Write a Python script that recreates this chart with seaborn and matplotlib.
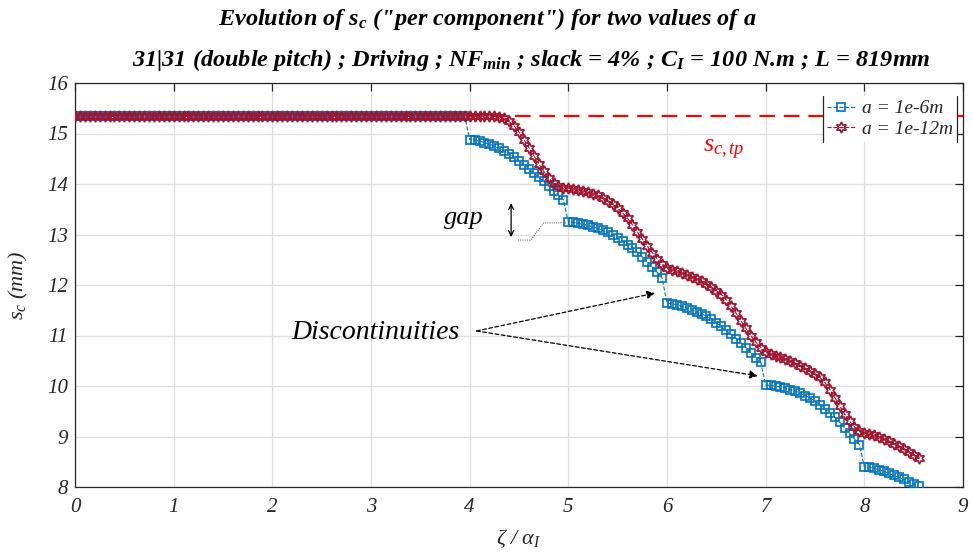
import matplotlib
matplotlib.use("Agg")
import matplotlib.pyplot as plt
from matplotlib.lines import Line2D
import seaborn as sns
import pandas as pd

# ---------------- data ----------------
zeta = [
    0.00, 0.05, 0.10, 0.15, 0.20, 0.25, 0.30, 0.35, 0.40, 0.45,
    0.50, 0.55, 0.60, 0.65, 0.70, 0.75, 0.80, 0.85, 0.90, 0.95,
    1.00, 1.05, 1.10, 1.15, 1.20, 1.25, 1.30, 1.35, 1.40, 1.45,
    1.50, 1.55, 1.60, 1.65, 1.70, 1.75, 1.80, 1.85, 1.90, 1.95,
    2.00, 2.05, 2.10, 2.15, 2.20, 2.25, 2.30, 2.35, 2.40, 2.45,
    2.50, 2.55, 2.60, 2.65, 2.70, 2.75, 2.80, 2.85, 2.90, 2.95,
    3.00, 3.05, 3.10, 3.15, 3.20, 3.25, 3.30, 3.35, 3.40, 3.45,
    3.50, 3.55, 3.60, 3.65, 3.70, 3.75, 3.80, 3.85, 3.90, 3.95,
    4.00, 4.05, 4.10, 4.15, 4.20, 4.25, 4.30, 4.35, 4.40, 4.45,
    4.50, 4.55, 4.60, 4.65, 4.70, 4.75, 4.80, 4.85, 4.90, 4.95,
    5.00, 5.05, 5.10, 5.15, 5.20, 5.25, 5.30, 5.35, 5.40, 5.45,
    5.50, 5.55, 5.60, 5.65, 5.70, 5.75, 5.80, 5.85, 5.90, 5.95,
    6.00, 6.05, 6.10, 6.15, 6.20, 6.25, 6.30, 6.35, 6.40, 6.45,
    6.50, 6.55, 6.60, 6.65, 6.70, 6.75, 6.80, 6.85, 6.90, 6.95,
    7.00, 7.05, 7.10, 7.15, 7.20, 7.25, 7.30, 7.35, 7.40, 7.45,
    7.50, 7.55, 7.60, 7.65, 7.70, 7.75, 7.80, 7.85, 7.90, 7.95,
    8.00, 8.05, 8.10, 8.15, 8.20, 8.25, 8.30, 8.35, 8.40, 8.45,
    8.50, 8.55,
]

# a = 1e-6 m  (blue, discontinuous at integer zeta/alpha)
sc_a6 = [
    15.35, 15.35, 15.35, 15.35, 15.35, 15.35, 15.35, 15.35, 15.35, 15.35,
    15.35, 15.35, 15.35, 15.35, 15.35, 15.35, 15.35, 15.35, 15.35, 15.35,
    15.35, 15.35, 15.35, 15.35, 15.35, 15.35, 15.35, 15.35, 15.35, 15.35,
    15.35, 15.35, 15.35, 15.35, 15.35, 15.35, 15.35, 15.35, 15.35, 15.35,
    15.35, 15.35, 15.35, 15.35, 15.35, 15.35, 15.35, 15.35, 15.35, 15.35,
    15.35, 15.35, 15.35, 15.35, 15.35, 15.35, 15.35, 15.35, 15.35, 15.35,
    15.35, 15.35, 15.35, 15.35, 15.35, 15.35, 15.35, 15.35, 15.35, 15.35,
    15.35, 15.35, 15.35, 15.35, 15.35, 15.35, 15.35, 15.35, 15.35, 15.35,
    14.88, 14.87, 14.85, 14.82, 14.79, 14.75, 14.71, 14.66, 14.60, 14.53,
    14.46, 14.38, 14.30, 14.22, 14.14, 14.05, 13.96, 13.87, 13.78, 13.69,
    13.25, 13.24, 13.22, 13.20, 13.18, 13.15, 13.12, 13.08, 13.04, 12.99,
    12.93, 12.87, 12.80, 12.73, 12.65, 12.56, 12.46, 12.36, 12.25, 12.14,
    11.64, 11.63, 11.61, 11.58, 11.55, 11.51, 11.47, 11.43, 11.38, 11.32,
    11.25, 11.18, 11.10, 11.02, 10.94, 10.85, 10.76, 10.66, 10.56, 10.47,
    10.02, 10.01, 10.00, 9.98, 9.96, 9.93, 9.90, 9.86, 9.81, 9.76,
    9.70, 9.63, 9.55, 9.47, 9.38, 9.28, 9.17, 9.06, 8.95, 8.84,
    8.40, 8.39, 8.37, 8.34, 8.31, 8.27, 8.23, 8.19, 8.15, 8.10,
    8.06, 8.02,
]

# a = 1e-12 m  (dark red, continuous)
sc_a12 = [
    15.35, 15.35, 15.35, 15.35, 15.35, 15.35, 15.35, 15.35, 15.35, 15.35,
    15.35, 15.35, 15.35, 15.35, 15.35, 15.35, 15.35, 15.35, 15.35, 15.35,
    15.35, 15.35, 15.35, 15.35, 15.35, 15.35, 15.35, 15.35, 15.35, 15.35,
    15.35, 15.35, 15.35, 15.35, 15.35, 15.35, 15.35, 15.35, 15.35, 15.35,
    15.35, 15.35, 15.35, 15.35, 15.35, 15.35, 15.35, 15.35, 15.35, 15.35,
    15.35, 15.35, 15.35, 15.35, 15.35, 15.35, 15.35, 15.35, 15.35, 15.35,
    15.35, 15.35, 15.35, 15.35, 15.35, 15.35, 15.35, 15.35, 15.35, 15.35,
    15.35, 15.35, 15.35, 15.35, 15.35, 15.35, 15.35, 15.35, 15.35, 15.35,
    15.35, 15.35, 15.35, 15.35, 15.35, 15.35, 15.33, 15.30, 15.24, 15.15,
    15.03, 14.88, 14.72, 14.56, 14.40, 14.25, 14.12, 14.02, 13.96, 13.93,
    13.92, 13.90, 13.88, 13.86, 13.84, 13.81, 13.78, 13.73, 13.67, 13.60,
    13.52, 13.43, 13.32, 13.19, 13.05, 12.91, 12.77, 12.64, 12.52, 12.42,
    12.34, 12.30, 12.27, 12.24, 12.20, 12.16, 12.12, 12.07, 12.02, 11.96,
    11.89, 11.81, 11.71, 11.58, 11.44, 11.29, 11.14, 11.00, 10.87, 10.76,
    10.68, 10.63, 10.60, 10.57, 10.53, 10.49, 10.45, 10.40, 10.35, 10.29,
    10.23, 10.17, 10.07, 9.93, 9.77, 9.60, 9.44, 9.30, 9.19, 9.11,
    9.07, 9.04, 9.02, 8.99, 8.95, 8.91, 8.86, 8.81, 8.76, 8.70,
    8.64, 8.58,
]

sc_tp = 15.35
series_labels = ["a = 1e-6m", "a = 1e-12m"]
x_ticks = [0, 1, 2, 3, 4, 5, 6, 7, 8, 9]
y_ticks = [8, 9, 10, 11, 12, 13, 14, 15, 16]

# ---------------- style ----------------
sns.set_style("white")
plt.rcParams["font.family"] = ["Liberation Serif", "DejaVu Serif"]
plt.rcParams["font.style"] = "italic"
plt.rcParams["mathtext.fontset"] = "custom"
plt.rcParams["mathtext.it"] = "Liberation Serif:italic"
plt.rcParams["mathtext.rm"] = "Liberation Serif:italic"
plt.rcParams["mathtext.bf"] = "Liberation Serif:bold:italic"

BLUE = (0.0, 0.447, 0.741)
DRED = (0.635, 0.078, 0.184)

fig = plt.figure(figsize=(9.73, 5.58), dpi=100)
ax = fig.add_axes([75 / 973, 71 / 558, 888 / 973, 404 / 558])

df6 = pd.DataFrame({"zeta": zeta, "sc": sc_a6})
df12 = pd.DataFrame({"zeta": zeta, "sc": sc_a12})

ax.axhline(sc_tp, color="#ff0000", lw=1.6, linestyle=(0, (7, 4)), zorder=1.5)

sns.lineplot(data=df6, x="zeta", y="sc", ax=ax, estimator=None, sort=False,
             color=BLUE, linestyle="--", lw=0.8, marker="s", markersize=5.5,
             markerfacecolor="none", markeredgecolor=BLUE, markeredgewidth=1.2,
             zorder=3)
sns.lineplot(data=df12, x="zeta", y="sc", ax=ax, estimator=None, sort=False,
             color=DRED, linestyle="--", lw=0.8, marker=(6, 1, 0), markersize=8,
             markerfacecolor="none", markeredgecolor=DRED, markeredgewidth=1.2,
             zorder=4)

ax.set_xlim(0, 9)
ax.set_ylim(8, 16)
ax.set_xticks(x_ticks)
ax.set_yticks(y_ticks)
ax.set_xticklabels([str(t) for t in x_ticks])
ax.set_yticklabels([str(t) for t in y_ticks])
ax.grid(True, color="#dedede", lw=0.9, zorder=0)
ax.set_axisbelow(True)
for s in ax.spines.values():
    s.set_color("#262626")
    s.set_linewidth(0.9)
ax.tick_params(direction="in", length=6, width=0.9, color="#262626",
               top=True, right=True, labelsize=15, labelcolor="#262626")
ax.tick_params(axis="x", pad=8)
ax.tick_params(axis="y", pad=5)

ax.set_xlabel(r"$\zeta\ /\ \alpha_I$", fontsize=16, labelpad=8, color="#262626")
ax.set_ylabel(r"$s_c\ (mm)$", fontsize=16, labelpad=12, color="#262626")

# titles
tfont = dict(family=["Liberation Serif", "DejaVu Serif"], weight="bold",
             style="italic", fontsize=17.5, color="black", ha="center", va="center")
fig.text(487 / 973, 1 - 19 / 558,
         r'Evolution of $\mathbf{s}_\mathbf{c}$ ("per component") for two values of a',
         **tfont)
fig.text(531 / 973, 1 - 60 / 558,
         r'31|31 (double pitch) ; Driving ; $\mathbf{NF}_\mathbf{min}$ ; slack = 4% ; '
         r'$\mathbf{C}_\mathbf{I}$ = 100 N.m ; L = 819mm',
         **tfont)

# legend
handles = [
    Line2D([], [], color=BLUE, linestyle="--", lw=0.8, marker="s", markersize=5.5,
           markerfacecolor="none", markeredgecolor=BLUE, markeredgewidth=1.2),
    Line2D([], [], color=DRED, linestyle="--", lw=0.8, marker=(6, 1, 0), markersize=8,
           markerfacecolor="none", markeredgecolor=DRED, markeredgewidth=1.2),
]
leg = ax.legend(handles, series_labels, loc="upper right",
                bbox_to_anchor=(0.993, 0.968), fontsize=14, frameon=True,
                fancybox=False, framealpha=1, facecolor="white", edgecolor="none",
                handlelength=1.5, handletextpad=0.3, borderpad=0.2,
                labelspacing=0.15, borderaxespad=0)
leg.set_zorder(10)

# s_c,tp label
ax.text(6.36, 14.62, r"$s_{c,tp}$", color="#ff0000", fontsize=19,
        ha="left", va="baseline",
        bbox=dict(facecolor="white", edgecolor="none", pad=1), zorder=5)

# gap annotation
ax.text(3.94, 13.33, "gap", fontsize=19, ha="center", va="center", color="black")
ax.annotate("", xy=(4.42, 12.95), xytext=(4.42, 13.62),
            arrowprops=dict(arrowstyle="<->", lw=0.9, color="black",
                            mutation_scale=9, shrinkA=0, shrinkB=0))
ax.plot([4.49, 4.62, 4.75, 4.98], [12.89, 12.89, 13.23, 13.23], color="#707070",
        lw=0.8, linestyle=(0, (1, 1)), zorder=5)

# discontinuities annotation
ax.text(3.05, 11.05, "Discontinuities", fontsize=20, ha="center", va="center",
        color="black")
for tgt in [(5.88, 11.84), (6.92, 10.20)]:
    ax.annotate("", xy=tgt, xytext=(4.07, 11.09),
                arrowprops=dict(arrowstyle="-|>", lw=0.9, color="black",
                                linestyle=(0, (3, 2)), mutation_scale=12,
                                shrinkA=0, shrinkB=0))

# legend side bars (left/right edges only, like the reference)
fig.canvas.draw()
bb = leg.get_window_extent()
for xx in (bb.x0, bb.x1):
    fig.add_artist(Line2D([xx, xx], [bb.y0, bb.y1], transform=None,
                          color="#262626", lw=0.9, zorder=11))

fig.savefig("out.png", dpi=100)
